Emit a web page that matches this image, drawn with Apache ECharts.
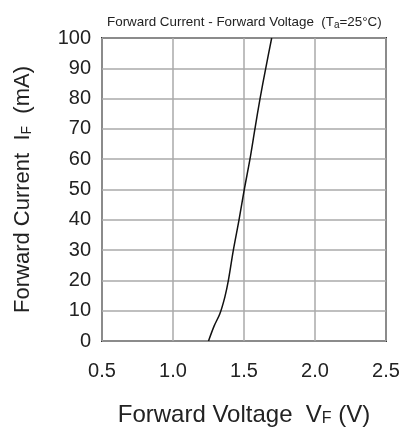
<!DOCTYPE html>
<html><head><meta charset="utf-8">
<script src="https://cdn.jsdelivr.net/npm/echarts@6/dist/echarts.min.js"></script>
<style>html,body{margin:0;padding:0;background:#fff}#c{width:411px;height:435px}</style>
</head><body><div id="c"></div>
<script>
const voltage = [1.25, 1.29, 1.33, 1.365, 1.39, 1.425, 1.465, 1.502, 1.542, 1.577, 1.613, 1.653, 1.695];
const current = [0, 5, 9, 14.5, 20, 30, 40, 50, 60, 70, 80, 90, 100];
const xTicks = [0.5, 1.0, 1.5, 2.0, 2.5];
const yTicks = [0, 10, 20, 30, 40, 50, 60, 70, 80, 90, 100];

const SANS = '"Liberation Sans", Arial, sans-serif';
const chart = echarts.init(document.getElementById('c'));
chart.setOption({
  animation: false,
  title: {
    text: '{t|Forward Current - Forward Voltage  (T}{s|a}{t|=25°C)}',
    left: 102, top: 9,
    textStyle: {
      fontWeight: 'normal',
      rich: {
        t: {fontFamily: SANS, fontSize: 13.4, fontWeight: 'normal', color: '#222'},
        s: {fontFamily: SANS, fontSize: 10, fontWeight: 'normal', color: '#222', verticalAlign: 'bottom', padding: [6,0,0,0]}
      }
    }
  },
  grid: {left: 102, right: 25, top: 38, bottom: 94, show: true, borderColor: '#333', borderWidth: 2},
  xAxis: {
    type: 'value', min: xTicks[0], max: xTicks[xTicks.length-1], interval: 0.5,
    axisLine: {show: false}, axisTick: {show: false},
    splitLine: {lineStyle: {color: '#aaa', width: 1.5}},
    axisLabel: {formatter: v => v.toFixed(1), fontSize: 20, color: '#222', margin: 20, fontFamily: SANS},
    name: '{t|Forward Voltage  V}{s|F}{t| (V)}',
    nameLocation: 'middle', nameGap: 62,
    nameTextStyle: {rich: {
      t: {fontSize: 24, color: '#222', fontFamily: SANS},
      s: {fontSize: 16, color: '#222', fontFamily: SANS, verticalAlign: 'bottom', padding:[7,0,0,0]}
    }}
  },
  yAxis: {
    type: 'value', min: yTicks[0], max: yTicks[yTicks.length-1], interval: 10,
    axisLine: {show: false}, axisTick: {show: false},
    splitLine: {lineStyle: {color: '#aaa', width: 1.5}},
    axisLabel: {fontSize: 20, color: '#222', margin: 11, fontFamily: SANS},
    name: '{t|Forward Current  I}{s|F}{t|  (mA)}',
    nameLocation: 'middle', nameRotate: 90, nameGap: 68,
    nameTextStyle: {rich: {
      t: {fontSize: 22, color: '#222', fontFamily: SANS},
      s: {fontSize: 14, color: '#222', fontFamily: SANS, verticalAlign: 'bottom', padding:[6,0,0,0]}
    }}
  },
  series: [{
    type: 'line', data: voltage.map((v, i) => [v, current[i]]),
    smooth: 0.3, symbol: 'none', lineStyle: {color: '#111', width: 1.5}
  }]
});
</script></body></html>
